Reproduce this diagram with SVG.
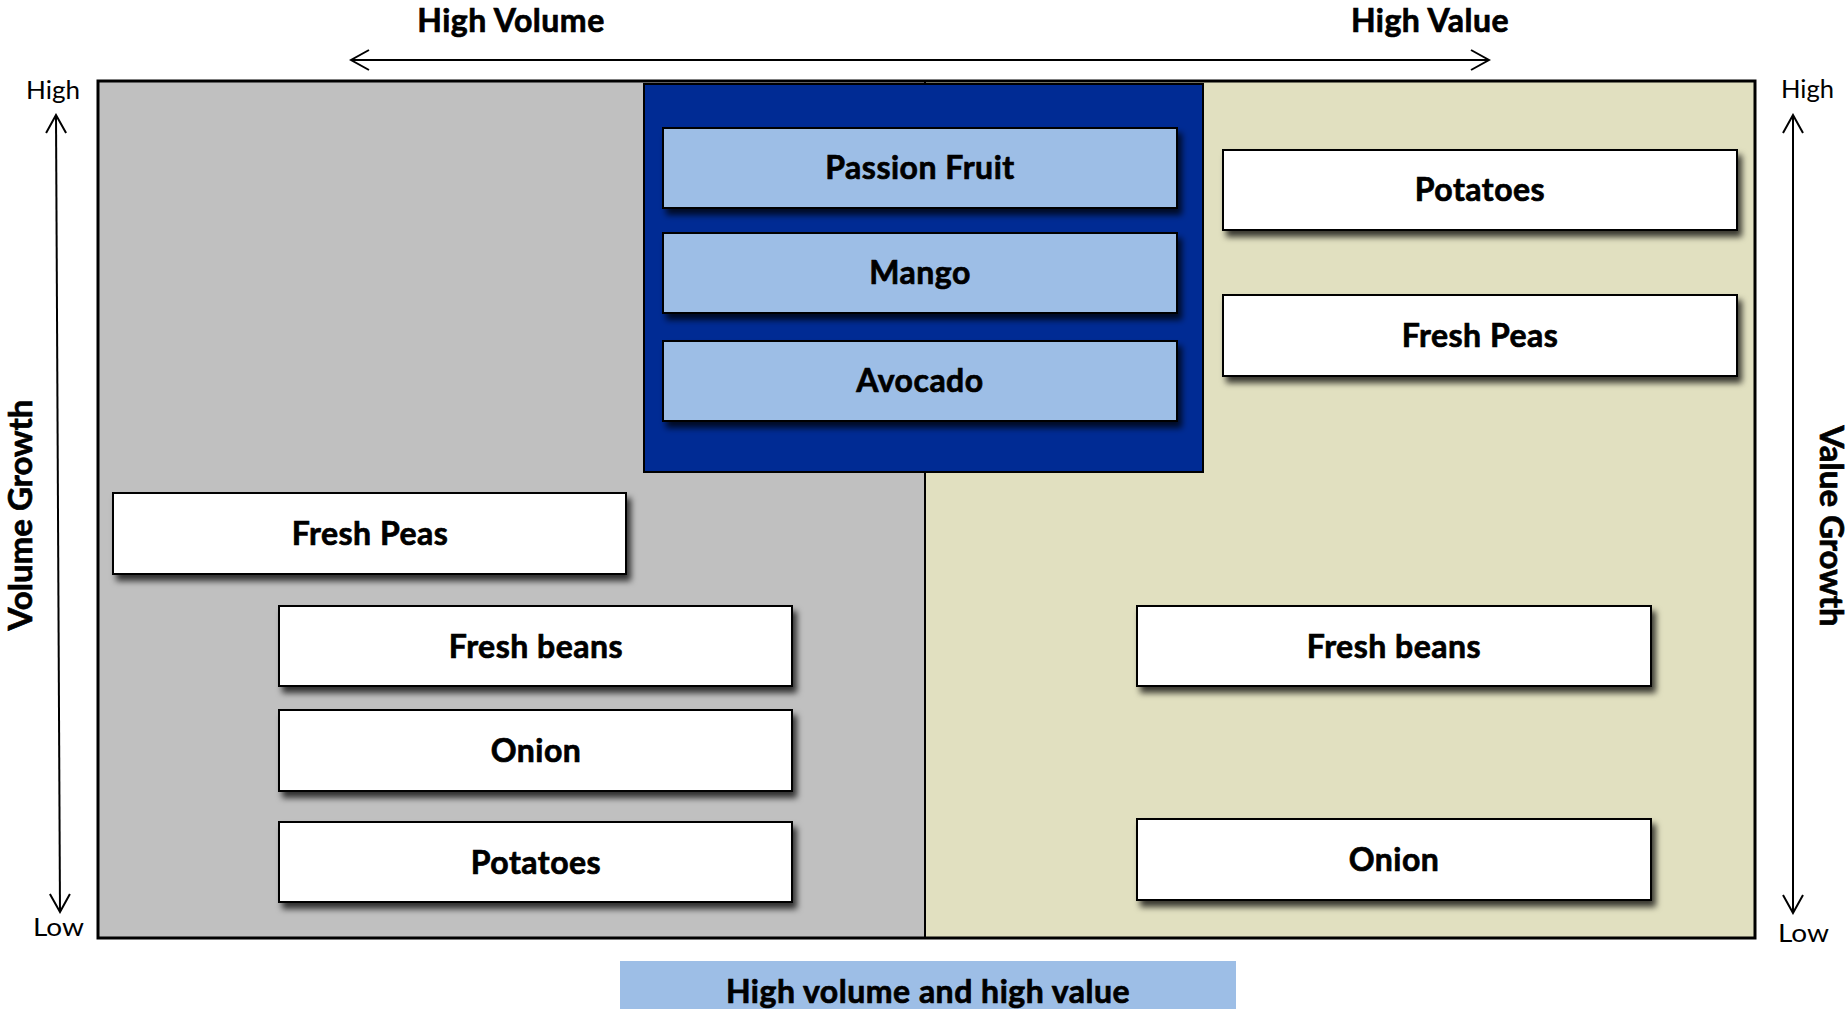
<svg xmlns="http://www.w3.org/2000/svg" width="1846" height="1009" viewBox="0 0 1846 1009">
  <defs>
    <filter id="shadow" x="-5%" y="-20%" width="115%" height="150%">
      <feDropShadow dx="4" dy="6" stdDeviation="3" flood-color="#000" flood-opacity="0.75"/>
    </filter>
    <marker id="chev" viewBox="-20 -12 22 24" markerWidth="22" markerHeight="24" refX="0" refY="0" orient="auto-start-reverse" markerUnits="userSpaceOnUse">
      <path d="M-18,-10 L0,0 L-18,10" fill="none" stroke="#000" stroke-width="2"/>
    </marker>
    <style>
      .axis { stroke: #000; stroke-width: 2; fill: none; marker-start: url(#chev); marker-end: url(#chev); }
      .node { fill: #ffffff; stroke: #000; stroke-width: 2; filter: url(#shadow); }
      .fruit { fill: #9dbee6; stroke: #000; stroke-width: 2; filter: url(#shadow); }
      .label, .head, .side { font-family: Lato, "Liberation Sans", sans-serif; font-weight: 700; fill: #000; stroke: #000; stroke-width: 0.7; text-anchor: middle; }
      .label, .head { font-size: 32px; letter-spacing: 0.5px; }
      .side { font-size: 33px; }
      .tick { font-family: Lato, "Liberation Sans", sans-serif; font-weight: 400; font-size: 25px; fill: #000; }
    </style>
  </defs>

  <rect width="1846" height="1009" fill="#ffffff"/>

  <!-- quadrant frame -->
  <g id="frame">
    <rect x="98" y="81" width="827" height="857" fill="#c0c0c0"/>
    <rect x="925" y="81" width="830" height="857" fill="#e1e0c0"/>
    <line x1="925" y1="81" x2="925" y2="938" stroke="#000" stroke-width="2"/>
    <rect x="98" y="81" width="1657" height="857" fill="none" stroke="#000" stroke-width="3"/>
  </g>

  <!-- axis headings and ticks -->
  <g id="axis-labels">
    <text class="head" x="511" y="32">High Volume</text>
    <text class="head" x="1430" y="32">High Value</text>
    <text class="tick" x="26" y="99" textLength="54" lengthAdjust="spacingAndGlyphs">High</text>
    <text class="tick" x="33" y="936" textLength="51" lengthAdjust="spacingAndGlyphs">Low</text>
    <text class="tick" x="1781" y="98" textLength="53" lengthAdjust="spacingAndGlyphs">High</text>
    <text class="tick" x="1778" y="942" textLength="51" lengthAdjust="spacingAndGlyphs">Low</text>
    <text class="side" transform="translate(32,515) rotate(-90)">Volume Growth</text>
    <text class="side" transform="translate(1820,526) rotate(90)">Value Growth</text>
  </g>

  <!-- arrows -->
  <g id="connectors">
    <line class="axis" x1="351" y1="60" x2="1489" y2="60"/>
    <line class="axis" x1="56" y1="115" x2="60" y2="912"/>
    <line class="axis" x1="1793" y1="115" x2="1793" y2="913"/>
  </g>

  <!-- high volume and high value cluster -->
  <g id="cluster">
    <rect x="644" y="84" width="559" height="388" fill="#002b94" stroke="#000" stroke-width="2"/>
  </g>
  <g id="passion-fruit">
    <rect class="fruit" x="663" y="128" width="514" height="80"/>
    <text class="label" x="920" y="179">Passion Fruit</text>
  </g>
  <g id="mango">
    <rect class="fruit" x="663" y="233" width="514" height="80"/>
    <text class="label" x="920" y="284">Mango</text>
  </g>
  <g id="avocado">
    <rect class="fruit" x="663" y="341" width="514" height="80"/>
    <text class="label" x="920" y="392">Avocado</text>
  </g>

  <!-- value growth column -->
  <g id="potatoes-value">
    <rect class="node" x="1223" y="150" width="514" height="80"/>
    <text class="label" x="1480" y="201">Potatoes</text>
  </g>
  <g id="fresh-peas-value">
    <rect class="node" x="1223" y="295" width="514" height="81"/>
    <text class="label" x="1480" y="347">Fresh Peas</text>
  </g>
  <g id="fresh-beans-value">
    <rect class="node" x="1137" y="606" width="514" height="80"/>
    <text class="label" x="1394" y="658">Fresh beans</text>
  </g>
  <g id="onion-value">
    <rect class="node" x="1137" y="819" width="514" height="81"/>
    <text class="label" x="1394" y="871">Onion</text>
  </g>

  <!-- volume growth column -->
  <g id="fresh-peas-volume">
    <rect class="node" x="113" y="493" width="513" height="81"/>
    <text class="label" x="370" y="545">Fresh Peas</text>
  </g>
  <g id="fresh-beans-volume">
    <rect class="node" x="279" y="606" width="513" height="80"/>
    <text class="label" x="536" y="658">Fresh beans</text>
  </g>
  <g id="onion-volume">
    <rect class="node" x="279" y="710" width="513" height="81"/>
    <text class="label" x="536" y="762">Onion</text>
  </g>
  <g id="potatoes-volume">
    <rect class="node" x="279" y="822" width="513" height="80"/>
    <text class="label" x="536" y="874">Potatoes</text>
  </g>

  <!-- caption -->
  <g id="caption">
    <rect x="620" y="961" width="616" height="60" fill="#9dbee6"/>
    <text class="label" x="928" y="1003">High volume and high value</text>
  </g>
</svg>
